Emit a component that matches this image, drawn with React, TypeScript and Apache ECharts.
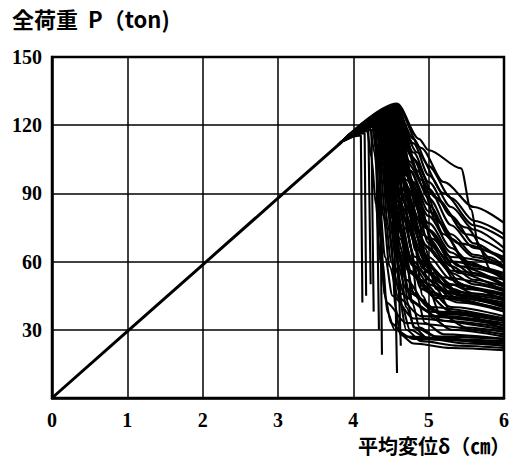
import React, { useEffect, useRef } from "react";
import * as echarts from "echarts";

const xTicks = [0, 1, 2, 3, 4, 5, 6];
const yTicks = [30, 60, 90, 120, 150];

// elastic common branch (cm, ton)
const commonLine: number[][] = [[0, 0], [1, 29.3], [2, 58.6], [3, 87.9], [3.85, 112.8]];

// curves that break abruptly (vertical drops)
const verticalCurves: number[][][] = [
  [[3.85, 112.8], [4.0, 115], [4.1, 115.5], [4.12, 42]],
  [[3.85, 112.8], [4.05, 116], [4.15, 116.5], [4.17, 45]],
  [[3.85, 112.8], [4.1, 117], [4.2, 117.5], [4.23, 50]],
  [[3.85, 112.8], [4.12, 117.5], [4.24, 118], [4.27, 38]],
  [[3.88, 113.5], [4.2, 119], [4.3, 119.5], [4.34, 30]],
  [[3.88, 113.5], [4.22, 119.5], [4.35, 120], [4.38, 19]],
  [[3.88, 113.5], [4.3, 121], [4.45, 118], [4.55, 62], [4.58, 11]],
  [[3.88, 113.5], [4.35, 122], [4.5, 118], [4.6, 55], [4.63, 23]],
];

// curves that fall steeply just after an early peak
const steepCurves: number[][][] = [
  [[3.88, 113.5], [4.25, 119.5], [4.32, 105], [4.4, 80], [4.48, 58], [4.6, 44], [4.9, 36], [6, 32]],
  [[3.88, 113.5], [4.27, 120], [4.35, 104], [4.43, 78], [4.5, 60], [4.62, 46], [5.0, 38], [6, 34]],
  [[3.88, 113.5], [4.3, 121], [4.38, 102], [4.46, 76], [4.54, 58], [4.7, 44], [5.1, 36], [6, 33]],
  [[3.87, 113.3], [4.33, 121.5], [4.4, 104], [4.48, 80], [4.56, 62], [4.7, 48], [5.1, 38], [6, 35]],
  [[3.87, 113.3], [4.36, 122], [4.43, 104], [4.5, 82], [4.6, 62], [4.75, 46], [5.2, 37], [6, 34]],
  [[3.9, 114], [4.22, 119], [4.28, 108], [4.35, 85], [4.42, 62], [4.52, 45], [4.8, 35], [6, 30]],
  [[3.9, 114], [4.18, 118], [4.24, 106], [4.3, 85], [4.36, 60], [4.44, 42], [4.7, 33], [6, 28]],
];

// curves with high residual strength
const highCurves: number[][][] = [
  [[3.8, 111.4], [4.58, 129.5], [4.87, 114], [5.0, 109], [5.43, 101], [5.56, 83], [5.67, 66], [5.83, 56], [6, 52]],
  [[3.8, 111.4], [4.57, 129], [4.9, 110], [5.2, 95], [5.6, 84], [6, 77]],
  [[3.8, 111.4], [4.55, 128], [4.85, 108], [5.2, 90], [5.6, 76], [6, 70]],
  [[3.82, 112], [4.52, 127], [4.8, 105], [5.1, 88], [5.5, 72], [6, 64]],
  [[3.82, 112], [4.5, 127], [4.75, 100], [5.0, 82], [5.4, 68], [6, 62]],
  [[3.85, 112.8], [4.5, 126], [4.7, 104], [5.0, 90], [5.5, 75], [5.8, 62], [6, 58]],
  [[3.82, 112], [4.56, 128.5], [4.8, 114], [5.0, 102], [5.3, 88], [5.6, 78], [6, 72]],
  [[3.82, 112], [4.55, 128], [4.8, 112], [5.0, 98], [5.3, 84], [5.6, 74], [6, 66]],
  [[3.84, 112.5], [4.54, 128], [4.8, 108], [5.0, 95], [5.3, 80], [5.6, 68], [6, 60]],
];

// broad family descending gradually
const broadCurves: number[][][] = [
  [[3.84, 112.5], [4.53, 127.5], [4.78, 106], [5.0, 92], [5.3, 76], [5.6, 66], [6, 61]],
  [[3.85, 112.8], [4.52, 127], [4.75, 104], [5.0, 88], [5.3, 72], [5.6, 63], [6, 58]],
  [[3.85, 112.8], [4.5, 126.5], [4.75, 100], [5.0, 85], [5.3, 70], [5.6, 62], [6, 57]],
  [[3.86, 113], [4.48, 126], [4.72, 98], [5.0, 80], [5.3, 66], [5.6, 58], [6, 54]],
  [[3.86, 113], [4.46, 125.5], [4.7, 96], [5.0, 77], [5.3, 64], [5.6, 57], [6, 53]],
  [[3.87, 113.3], [4.44, 125], [4.68, 94], [5.0, 74], [5.3, 60], [5.6, 54], [6, 50]],
  [[3.87, 113.3], [4.42, 124.5], [4.66, 92], [5.0, 70], [5.3, 58], [5.6, 52], [6, 49]],
  [[3.88, 113.5], [4.4, 124], [4.64, 90], [5.0, 66], [5.3, 55], [5.6, 50], [6, 47]],
  [[3.88, 113.5], [4.38, 123.5], [4.62, 88], [5.0, 62], [5.3, 52], [5.6, 48], [6, 45]],
  [[3.89, 113.8], [4.36, 123], [4.6, 86], [5.0, 58], [5.3, 50], [5.6, 46], [6, 44]],
  [[3.89, 113.8], [4.34, 122.5], [4.58, 84], [5.0, 55], [5.3, 48], [5.6, 45], [6, 43]],
  [[3.9, 114], [4.32, 122], [4.56, 80], [4.8, 60], [5.0, 52], [5.3, 46], [6, 41]],
  [[3.9, 114], [4.3, 121.5], [4.54, 78], [4.8, 58], [5.0, 50], [5.4, 44], [6, 40]],
  [[3.9, 114], [4.28, 121], [4.52, 76], [4.75, 55], [5.0, 47], [5.4, 42], [6, 38]],
];

// curves with medium residual strength
const midCurves: number[][][] = [
  [[3.85, 112.8], [4.48, 126], [4.7, 98], [4.95, 75], [5.3, 62], [6, 58]],
  [[3.85, 112.8], [4.46, 125], [4.68, 95], [4.9, 72], [5.3, 60], [6, 55]],
  [[3.85, 112.8], [4.45, 125], [4.65, 92], [4.9, 68], [5.3, 56], [6, 52]],
  [[3.85, 112.8], [4.5, 126], [4.75, 96], [5.0, 74], [5.4, 58], [6, 50]],
  [[3.87, 113.3], [4.43, 124], [4.62, 90], [4.85, 65], [5.2, 53], [6, 48]],
  [[3.87, 113.3], [4.42, 124], [4.6, 88], [4.82, 62], [5.2, 50], [6, 46]],
  [[3.87, 113.3], [4.4, 123], [4.58, 85], [4.8, 58], [5.2, 47], [6, 44]],
  [[3.82, 112], [4.55, 128], [4.85, 100], [5.1, 78], [5.5, 60], [6, 52]],
  [[3.82, 112], [4.52, 127], [4.8, 95], [5.05, 70], [5.4, 55], [6, 47]],
  [[3.88, 113.5], [4.38, 123], [4.55, 82], [4.75, 56], [5.1, 45], [6, 41]],
  [[3.88, 113.5], [4.36, 122], [4.55, 85], [4.78, 55], [5.1, 44], [6, 39]],
  [[3.85, 112.8], [4.5, 126], [4.72, 88], [4.95, 60], [5.3, 46], [6, 40]],
  [[3.85, 112.8], [4.48, 126], [4.7, 85], [4.92, 57], [5.3, 44], [6, 38]],
  [[3.85, 112.8], [4.45, 125], [4.65, 80], [4.88, 52], [5.3, 40], [6, 36]],
  [[3.88, 113.5], [4.34, 122], [4.5, 80], [4.7, 52], [5.0, 40], [6, 35]],
  [[3.82, 112], [4.55, 128], [4.8, 90], [5.0, 68], [5.4, 50], [6, 43]],
  [[3.8, 111.4], [4.58, 128], [4.9, 96], [5.2, 72], [5.6, 55], [6, 49]],
  [[3.82, 112], [4.52, 127], [4.78, 82], [5.0, 58], [5.4, 45], [6, 42]],
  [[3.85, 112.8], [4.47, 125], [4.68, 75], [4.9, 48], [5.3, 38], [6, 34]],
  [[3.87, 113.3], [4.44, 124], [4.62, 70], [4.82, 45], [5.2, 36], [6, 32]],
  [[3.87, 113.3], [4.42, 124], [4.6, 65], [4.78, 42], [5.2, 34], [6, 31]],
  [[3.8, 111.4], [4.56, 128], [4.85, 88], [5.1, 62], [5.5, 48], [6, 45]],
  [[3.82, 112], [4.5, 126], [4.8, 78], [5.05, 55], [5.5, 44], [6, 40]],
];

// curves with low residual strength
const lowCurves: number[][][] = [
  [[3.88, 113.5], [4.3, 121], [4.42, 110], [4.5, 70], [4.56, 40], [4.62, 28], [4.8, 24], [5.3, 22], [6, 21]],
  [[3.88, 113.5], [4.35, 122], [4.48, 108], [4.56, 70], [4.62, 42], [4.7, 30], [4.9, 25], [5.4, 23], [6, 22]],
  [[3.87, 113.3], [4.4, 123], [4.55, 105], [4.65, 70], [4.72, 42], [4.8, 31], [5.0, 26], [5.5, 24], [6, 23]],
  [[3.85, 112.8], [4.45, 125], [4.6, 100], [4.7, 65], [4.78, 42], [4.88, 31], [5.1, 27], [5.6, 25], [6, 24]],
  [[3.85, 112.8], [4.5, 126], [4.65, 98], [4.76, 66], [4.85, 44], [4.95, 33], [5.2, 28], [6, 26]],
  [[3.82, 112], [4.5, 126], [4.7, 95], [4.82, 65], [4.92, 45], [5.05, 35], [5.3, 30], [6, 27]],
  [[3.82, 112], [4.55, 127], [4.75, 95], [4.88, 68], [5.0, 48], [5.15, 37], [5.5, 31], [6, 29]],
  [[3.8, 111.4], [4.55, 128], [4.8, 92], [4.95, 66], [5.1, 48], [5.3, 38], [6, 30]],
  [[3.88, 113.5], [4.4, 123], [4.5, 100], [4.58, 60], [4.65, 40], [4.75, 30], [5.0, 26], [6, 25]],
  [[3.87, 113.3], [4.45, 124], [4.55, 95], [4.62, 60], [4.7, 40], [4.82, 31], [5.1, 27], [6, 26]],
  [[3.9, 114], [4.28, 120], [4.33, 114], [4.39, 60], [4.45, 38], [4.55, 30], [4.8, 26], [6, 24]],
  [[3.9, 114], [4.25, 119.5], [4.3, 112], [4.36, 70], [4.42, 45], [4.5, 33], [4.7, 27], [6, 23]],
];

const serif = "'Liberation Serif', 'DejaVu Serif', serif";
const cjk = "'Noto Sans CJK JP', 'Noto Sans', sans-serif";

export default function App() {
  const ref = useRef<HTMLDivElement>(null);
  useEffect(() => {
    if (!ref.current) return;
    const chart = echarts.init(ref.current, null, { renderer: "svg" });
    const mk = (data: number[][], width: number, smooth: number | boolean) => ({
      type: "line",
      data,
      showSymbol: false,
      symbol: "none",
      silent: true,
      smooth,
      smoothMonotone: "x",
      lineStyle: { color: "#000", width },
      z: 3,
    });
    const w = 2.1;
    const series: any[] = [mk(commonLine, 3, false)];
    verticalCurves.forEach((c) => series.push(mk(c, w, false)));
    steepCurves.forEach((c) => series.push(mk(c, w, 0.3)));
    highCurves.forEach((c) => series.push(mk(c, w, 0.3)));
    broadCurves.forEach((c) => series.push(mk(c, w, 0.3)));
    midCurves.forEach((c) => series.push(mk(c, w, 0.3)));
    lowCurves.forEach((c) => series.push(mk(c, w, 0.3)));

    chart.setOption({
      animation: false,
      backgroundColor: "#fff",
      grid: {
        left: 52,
        top: 57,
        right: 13,
        bottom: 66,
        show: true,
        borderColor: "#000",
        borderWidth: 2.5,
      },
      graphic: [
        {
          type: "text",
          left: 12,
          top: 7,
          style: {
            text: "全荷重  P（ton)",
            font: `bold 22px ${cjk}`,
            fill: "#000",
          },
        },
        {
          type: "text",
          left: 358,
          top: 435,
          style: {
            text: "平均変位δ（㎝）",
            font: `bold 20px ${cjk}`,
            fill: "#000",
          },
        },
      ],
      xAxis: {
        type: "value",
        min: 0,
        max: 6,
        interval: 1,
        axisLine: { show: true, lineStyle: { color: "#000", width: 2.5 } },
        axisTick: { show: false },
        splitLine: { show: true, lineStyle: { color: "#000", width: 1.5 } },
        axisLabel: {
          margin: 12,
          color: "#000",
          fontFamily: serif,
          fontWeight: "bold",
          fontSize: 20,
          formatter: (v: number) => (xTicks.includes(v) ? String(v) : ""),
        },
      },
      yAxis: {
        type: "value",
        min: 0,
        max: 150,
        interval: 30,
        axisLine: { show: true, lineStyle: { color: "#000", width: 2.5 } },
        axisTick: { show: false },
        splitLine: { show: true, lineStyle: { color: "#000", width: 1.5 } },
        axisLabel: {
          margin: 10,
          color: "#000",
          fontFamily: serif,
          fontWeight: "bold",
          fontSize: 20,
          formatter: (v: number) => (yTicks.includes(v) ? String(v) : ""),
        },
      },
      series,
    });
    return () => chart.dispose();
  }, []);
  return <div ref={ref} style={{ width: 517, height: 464, position: "absolute", left: 0, top: 0 }} />;
}
